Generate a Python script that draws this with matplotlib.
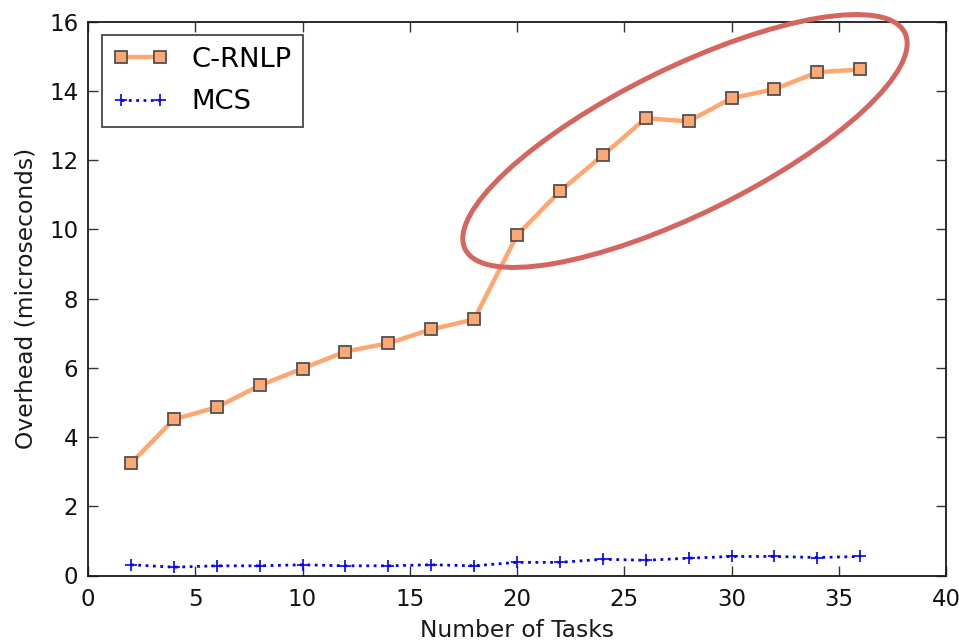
import matplotlib
matplotlib.use("Agg")
import matplotlib.pyplot as plt
from matplotlib.patches import Ellipse
from matplotlib.transforms import IdentityTransform

tasks = [2, 4, 6, 8, 10, 12, 14, 16, 18, 20, 22, 24, 26, 28, 30, 32, 34, 36]
crnlp = [3.24, 4.51, 4.86, 5.49, 5.98, 6.47, 6.71, 7.11, 7.40, 9.83,
         11.10, 12.14, 13.21, 13.12, 13.79, 14.05, 14.54, 14.62]
mcs = [0.31, 0.24, 0.28, 0.28, 0.31, 0.28, 0.28, 0.31, 0.28, 0.38,
       0.38, 0.47, 0.44, 0.50, 0.55, 0.55, 0.52, 0.55]
xticks = [0, 5, 10, 15, 20, 25, 30, 35, 40]
yticks = [0, 2, 4, 6, 8, 10, 12, 14, 16]

plt.rcParams['font.family'] = ['DejaVu Sans']

fig = plt.figure(figsize=(9.59, 6.42), dpi=100)
ax = fig.add_axes([88/959, 1 - 575.5/642, (946-88)/959, (575.5-21.7)/642])

ax.plot(tasks, crnlp, color='#ffa672', lw=3.2, marker='s', markersize=8.5,
        markerfacecolor='#ffa872', markeredgecolor='#505050', markeredgewidth=1.3,
        label='C-RNLP')
ax.plot(tasks, mcs, color='#0000ff', lw=2, ls=':', marker='+', markersize=9,
        markeredgewidth=1.2, label='MCS')

ax.set_xlim(0, 40)
ax.set_ylim(0, 16)
ax.set_xticks(xticks)
ax.set_yticks(yticks)
ax.tick_params(direction='in', top=True, right=True, length=7, width=1,
               labelsize=16.5, color='#333333')
ax.tick_params(axis='y', pad=7)
ax.tick_params(axis='x', pad=9)
for s in ax.spines.values():
    s.set_linewidth(1.3)
    s.set_color('#1a1a1a')

ax.set_xlabel('Number of Tasks', fontsize=16.8, color='#1a1a1a', labelpad=6)
ax.set_ylabel('Overhead (microseconds)', fontsize=16.8, color='#1a1a1a', labelpad=8)
for lab in ax.get_xticklabels() + ax.get_yticklabels():
    lab.set_color('#111111')

leg = ax.legend(loc='upper left', fontsize=19.7, numpoints=2, fancybox=False,
                handlelength=2.0, borderpad=0.42, labelspacing=0.6,
                handletextpad=0.85, borderaxespad=0.5)
leg.get_frame().set_edgecolor('#1a1a1a')
leg.get_frame().set_linewidth(1.3)

ell = Ellipse((685, 642 - 141), 490, 146, angle=26.2, fill=False,
              edgecolor='#d4665f', lw=3.6, transform=IdentityTransform(),
              clip_on=False, zorder=10)
fig.patches.append(ell)
ell.set_figure(fig)

fig.savefig('out.png', dpi=100)
